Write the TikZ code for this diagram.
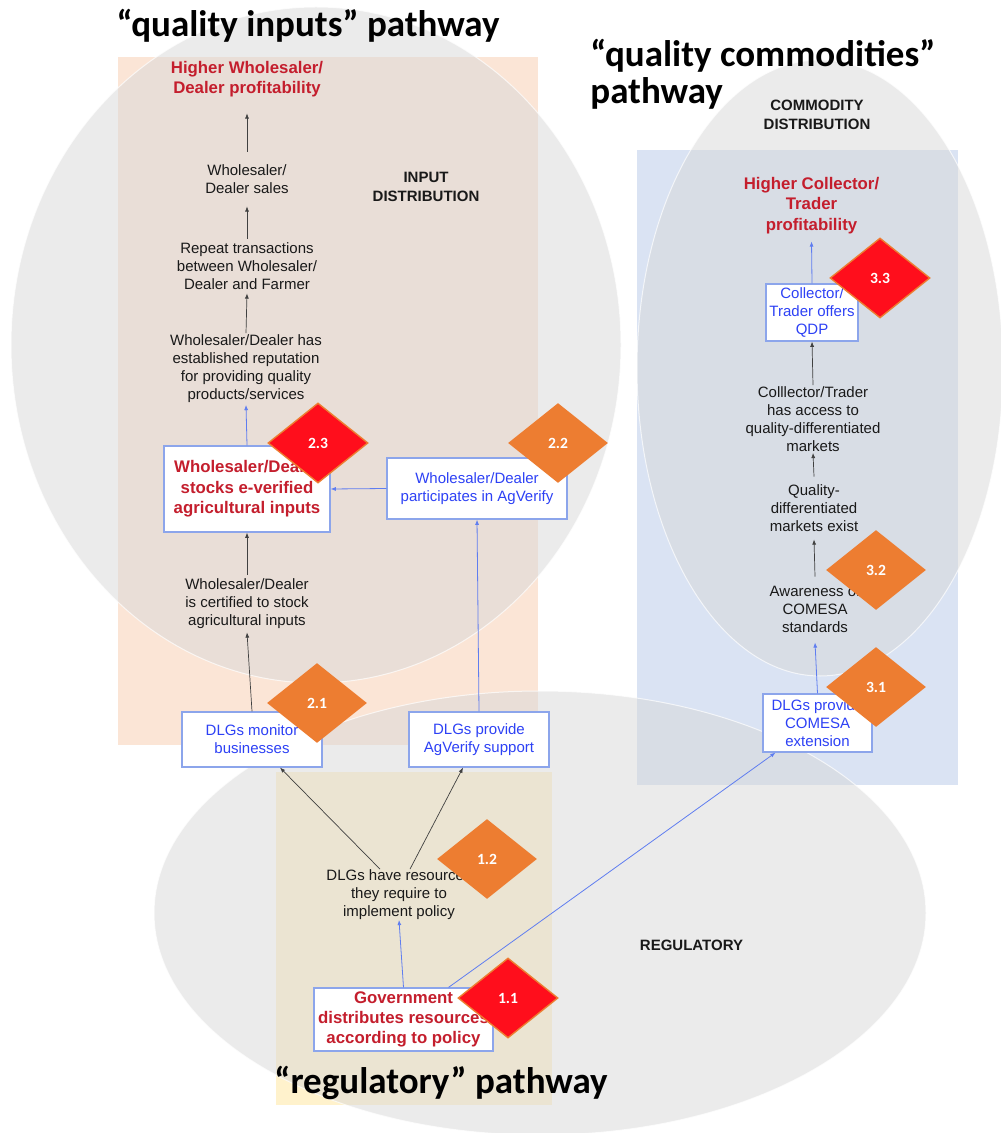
\documentclass[tikz,border=0pt]{standalone}
\usepackage{fontspec}
\setmainfont{Liberation Sans}
\newfontfamily\headfont{Carlito}
\usetikzlibrary{shapes.geometric,arrows.meta,calc}

\definecolor{peach}{RGB}{251,229,214}
\definecolor{paleblue}{RGB}{218,227,243}
\definecolor{paletan}{RGB}{255,242,204}
\definecolor{haze}{RGB}{216,216,216}
\definecolor{outcome}{RGB}{196,30,45}
\definecolor{action}{RGB}{45,65,245}
\definecolor{boxline}{RGB}{140,165,235}
\definecolor{link}{RGB}{95,125,240}
\definecolor{riskorange}{RGB}{237,125,49}
\definecolor{riskred}{RGB}{255,14,28}

\tikzset{
  txt/.style={align=center, inner sep=0pt, text=black!90,
    font=\fontsize{7.5}{9}\selectfont},
  goal/.style={align=center, inner sep=0pt, text=outcome,
    font=\fontsize{8.4}{10.2}\selectfont\bfseries},
  actbox/.style={draw=boxline, line width=0.6pt, fill=white, align=center,
    inner sep=1pt, text=action, font=\fontsize{7.5}{9}\selectfont},
  goalbox/.style={draw=boxline, line width=0.6pt, fill=white, align=center,
    inner sep=1pt, text=outcome, font=\fontsize{8.4}{10.2}\selectfont\bfseries},
  zone/.style={align=center, inner sep=0pt, text=black!90,
    font=\fontsize{7.5}{9.5}\selectfont\bfseries},
  pathtitle/.style={inner sep=0pt, text=black,
    font=\headfont\bfseries\fontsize{18.5}{24}\selectfont},
  blackarrow/.style={draw=black!75, line width=0.35pt,
    -{Latex[length=2.6pt,width=2pt]}},
  bluearrow/.style={draw=link, line width=0.4pt,
    -{Latex[length=2.6pt,width=2pt]}},
  risk/.style={diamond, minimum width=50pt, minimum height=40pt, inner sep=0pt,
    text=white, font=\headfont\bfseries\fontsize{7.8}{9}\selectfont},
  riskhi/.style={risk, fill=riskred, draw=riskorange, line width=0.7pt},
  riskmid/.style={risk, fill=riskorange},
  halo/.style={fill=haze, fill opacity=0.5, draw=white, draw opacity=0.7,
    line width=0.5pt},
}

\begin{document}
\begin{tikzpicture}[x=0.5pt,y=-0.5pt]
  \useasboundingbox (0,0) rectangle (1000,1133);
  \fill[white] (0,0) rectangle (1000,1133);

  % pathway panels
  \fill[peach] (118,57) rectangle (538,745);
  \fill[paleblue] (637,150) rectangle (958,785);
  \fill[paletan] (276,772) rectangle (552,1105);

  % translucent domain ellipses
  \path[halo] (316,345) ellipse [x radius=152.5pt, y radius=169pt];
  \path[halo] (820,368) ellipse [x radius=91.5pt, y radius=154pt];
  \path[halo] (540,913) ellipse [x radius=193pt, y radius=111pt];

  % pathway titles
  \node[pathtitle, anchor=base] (t1) at (308,37) {“quality inputs” pathway};
  \node[pathtitle, anchor=base west] (t2a) at (590,67) {“quality commodities”};
  \node[pathtitle, anchor=base west] (t2b) at (590,104) {pathway};
  \node[pathtitle, anchor=base] (t3) at (441,1093) {“regulatory” pathway};

  % domain labels
  \node[zone] (inlab) at (426,186.5) {INPUT\\DISTRIBUTION};
  \node[zone] (comlab) at (817,115) {COMMODITY\\DISTRIBUTION};
  \node[zone] (reglab) at (691.5,945) {REGULATORY};

  % input distribution chain
  \node[goal, minimum height=34pt] (hiW) at (247,79) {Higher Wholesaler/\\Dealer profitability};
  \node[txt, minimum height=27pt] (sales) at (247,179) {Wholesaler/\\Dealer sales};
  \node[txt, minimum height=27pt] (repeat) at (247,266) {Repeat transactions\\between Wholesaler/\\Dealer and Farmer};
  \node[txt, minimum height=35.5pt] (reput) at (246,369) {Wholesaler/Dealer has\\established reputation\\for providing quality\\products/services};
  \node[goalbox, minimum width=83pt, minimum height=43pt] (stock) at (247,489) {Wholesaler/Dealer\\stocks e-verified\\agricultural inputs};
  \node[txt, minimum height=28.5pt] (cert) at (247,603.5) {Wholesaler/Dealer\\is certified to stock\\agricultural inputs};
  \node[actbox, minimum width=70pt, minimum height=27.5pt] (mon) at (252,739.5) {DLGs monitor\\businesses};
  \node[actbox, minimum width=90pt, minimum height=30.5pt] (agv) at (477,488.5) {Wholesaler/Dealer\\participates in AgVerify};
  \node[actbox, minimum width=70pt, minimum height=27.5pt] (sup) at (479,739.5) {DLGs provide\\AgVerify support};

  % regulatory chain
  \node[txt, minimum height=22.5pt] (res) at (399,894.5) {DLGs have resources\\they require to\\implement policy};
  \node[goalbox, minimum width=89.5pt, minimum height=31.5pt] (gov) at (403.5,1019.5) {Government\\distributes resources\\according to policy};

  % commodity distribution chain
  \node[goal, minimum height=35.5pt] (hiC) at (811.5,205.5) {Higher Collector/\\Trader\\profitability};
  \node[actbox, minimum width=46pt, minimum height=28.5pt] (qdp) at (812,312.5) {Collector/\\Trader offers\\QDP};
  \node[txt, minimum height=33.5pt] (acc) at (813,419) {Colllector/Trader\\has access to\\quality-differentiated\\markets};
  \node[txt, minimum height=31pt] (qdm) at (814,508) {Quality-\\differentiated\\markets exist};
  \node[txt, minimum height=32.5pt] (aware) at (815,609.5) {Awareness of\\COMESA\\standards};
  \node[actbox, minimum width=54.5pt, minimum height=29pt] (com) at (817.5,723) {DLGs provide\\COMESA\\extension};

  % connectors
  \draw[blackarrow] (sales.north) -- (hiW.south);
  \draw[blackarrow] (repeat.north) -- (sales.south);
  \draw[blackarrow] (reput.north) -- (repeat.south);
  \draw[bluearrow] (stock.north) -- (reput.south);
  \draw[blackarrow] (cert.north) -- (stock.south);
  \draw[blackarrow] (mon.north) -- (cert.south);
  \draw[bluearrow] (agv.west) -- (stock.east);
  \draw[bluearrow] (sup.north) -- (agv.south);
  \draw[blackarrow] ($(res.north)+(-19,0)$) -- ($(mon.south)+(28,0)$);
  \draw[blackarrow] ($(res.north)+(11,0)$) -- ($(sup.south)+(-16,0)$);
  \draw[bluearrow] (gov.north) -- (res.south);
  \draw[bluearrow] ($(gov.north)+(45,0)$) -- ($(com.south)+(-42,0)$);
  \draw[bluearrow] (qdp.north) -- (hiC.south);
  \draw[blackarrow] (acc.north) -- (qdp.south);
  \draw[blackarrow] (qdm.north) -- (acc.south);
  \draw[blackarrow] (aware.north) -- (qdm.south);
  \draw[bluearrow] (com.north) -- (aware.south);

  % risk markers
  \node[riskhi] (r23) at (318,443) {2.3};
  \node[riskmid] (r22) at (558,443) {2.2};
  \node[riskmid] (r21) at (317,703) {2.1};
  \node[riskmid] (r12) at (487,859) {1.2};
  \node[riskhi] (r11) at (508,998) {1.1};
  \node[riskhi] (r33) at (880,278) {3.3};
  \node[riskmid] (r32) at (876,570) {3.2};
  \node[riskmid] (r31) at (876,687) {3.1};
\end{tikzpicture}
\end{document}
